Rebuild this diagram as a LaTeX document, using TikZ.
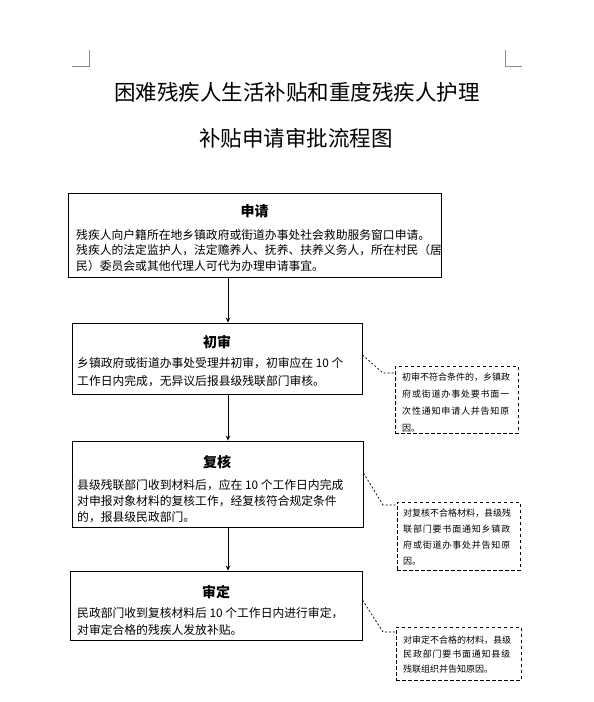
\documentclass[tikz,border=0pt]{standalone}
\usepackage{fontspec}
\setmainfont{Noto Sans CJK SC}
\usetikzlibrary{arrows.meta}
\newcommand{\wideline}[1]{{\addfontfeature{LetterSpace=9}#1}}
\tikzset{
  mainbox/.style={draw=black, line width=0.9pt, inner sep=0pt},
  sidebox/.style={draw=black, line width=0.8pt, dash pattern=on 3.5pt off 2.5pt, inner sep=0pt},
  boxtitle/.style={inner sep=0pt, font=\fontsize{14}{16}\selectfont\bfseries},
  boxtext/.style={inner sep=0pt, anchor=west, align=left},
  sidetext/.style={inner sep=0pt, anchor=west, align=left},
  flow/.style={line width=0.9pt, -{Stealth[length=5pt,width=4.5pt]}},
  link/.style={line width=0.7pt, dash pattern=on 2pt off 2pt},
  cornermark/.style={line width=0.6pt, draw=black!45}
}
\begin{document}
\begin{tikzpicture}[x=1pt,y=-1pt]
\useasboundingbox (0,0) rectangle (594,702);
% corner marks
\draw[cornermark] (72,66) -- (89,66) -- (89,50);
\draw[cornermark] (505,50) -- (505,66) -- (522,66);
% title
\node[inner sep=0pt, font=\fontsize{21.5}{24}\selectfont] (t1) at (297,92) {困难残疾人生活补贴和重度残疾人护理};
\node[inner sep=0pt, font=\fontsize{21.5}{24}\selectfont] (t2) at (296,138) {补贴申请审批流程图};
% main boxes
\node[mainbox, minimum width=373pt, minimum height=84pt] (b1) at (254.5,235) {};
\node[mainbox, minimum width=290pt, minimum height=71pt] (b2) at (217,358.5) {};
\node[mainbox, minimum width=291pt, minimum height=86pt] (b3) at (217.5,484) {};
\node[mainbox, minimum width=292pt, minimum height=69pt] (b4) at (216,605.5) {};
% titles
\node[boxtitle] (h1) at (254.5,211) {申请};
\node[boxtitle] (h2) at (217,342) {初审};
\node[boxtitle] (h3) at (217,462) {复核};
\node[boxtitle] (h4) at (216,592) {审定};
% texts
\node[boxtext, font=\fontsize{11.8}{15.5}\selectfont] (x1) at (76,250.5) {残疾人向户籍所在地乡镇政府或街道办事处社会救助服务窗口申请。\\残疾人的法定监护人，法定赡养人、抚养、扶养义务人，所在村民（居\\民）委员会或其他代理人可代为办理申请事宜。};
\node[boxtext, font=\fontsize{11.8}{18}\selectfont] (x2) at (77,372) {乡镇政府或街道办事处受理并初审，初审应在 10 个\\工作日内完成，无异议后报县级残联部门审核。};
\node[boxtext, font=\fontsize{11.8}{16}\selectfont] (x3) at (77,501) {县级残联部门收到材料后，应在 10 个工作日内完成\\对申报对象材料的复核工作，经复核符合规定条件\\的，报县级民政部门。};
\node[boxtext, font=\fontsize{11.8}{17}\selectfont] (x4) at (77,621.5) {民政部门收到复核材料后 10 个工作日内进行审定，\\对审定合格的残疾人发放补贴。};
% flow arrows
\coordinate (ax) at (228,0);
\draw[flow] (b1.south -| ax) -- (b2.north -| ax);
\draw[flow] (b2.south -| ax) -- (b3.north -| ax);
\draw[flow] (b3.south -| ax) -- (b4.north -| ax);
% side boxes
\node[sidebox, minimum width=123pt, minimum height=67pt] (s1) at (456.5,399.5) {};
\node[sidebox, minimum width=123pt, minimum height=68pt] (s2) at (458.5,536) {};
\node[sidebox, minimum width=125pt, minimum height=53pt] (s3) at (458.5,653.5) {};
\node[sidetext, font=\fontsize{9}{17}\selectfont] (y1) at (402,402.5) {初审不符合条件的，乡镇政\\\wideline{府或街道办事处要书面一}\\\wideline{次性通知申请人并告知原}\\因。};
\node[sidetext, font=\fontsize{9}{15.7}\selectfont] (y2) at (403,537) {对复核不合格材料，县级残\\\wideline{联部门要书面通知乡镇政}\\\wideline{府或街道办事处并告知原}\\因。};
\node[sidetext, font=\fontsize{9}{14.5}\selectfont] (y3) at (403,654.5) {对审定不合格的材料，县级\\\wideline{民政部门要书面通知县级}\\残联组织并告知原因。};
% dashed links
\coordinate (k1) at (383,373);
\coordinate (k2) at (383,505);
\coordinate (k3) at (383,632);
\draw[link] (b2.east |- 0,355) -- (k1) -- (s1.west |- k1);
\draw[link] (b3.east |- 0,473) -- (k2) -- (s2.west |- k2);
\draw[link] (b4.east |- 0,600) -- (k3) -- (s3.west |- k3);
\end{tikzpicture}
\end{document}
